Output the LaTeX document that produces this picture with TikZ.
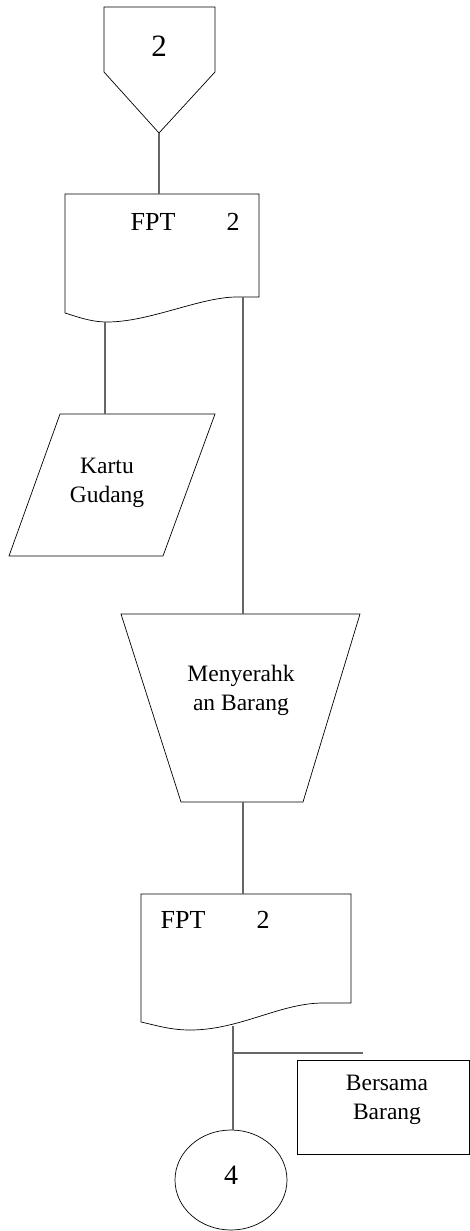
\documentclass[tikz,border=0pt]{standalone}
\usepackage{fontspec}
\setmainfont{Liberation Serif}
\begin{document}
\begin{tikzpicture}[x=1pt,y=-1pt,
  shp/.style={draw=black,line width=0.7pt,fill=white},
  conn/.style={draw=black!60,line width=1.1pt},
  lbl/.style={font=\fontsize{23.5}{29}\selectfont,align=center,inner sep=0pt},
  big/.style={font=\fontsize{26}{30}\selectfont,inner sep=0pt}]
\useasboundingbox (0,0) rectangle (470,1231);
% off-page connector
\draw[shp] (104,7)--(215,7)--(215,72)--(159,133)--(104,72)--cycle;
\node[font=\fontsize{31}{34}\selectfont,inner sep=0pt] (off) at (159,46) {2};
\coordinate (offB) at (159,133);
% document 1
\draw[shp] (65,194)--(259,194)--(259,297)--(237,297)
  .. controls (200,297) and (150,322) .. (107,322)
  .. controls (90,322) and (75,316) .. (65,313) -- cycle;
\coordinate (d1T) at (159,194);
\coordinate (d1L) at (105,322);
\coordinate (d1R) at (243,297);
\node[big] (fpt1) at (153,222) {FPT};
\node[big] (n1) at (233,222) {2};
% parallelogram
\draw[shp] (60,414)--(215,414)--(163,556)--(9,556)--cycle;
\coordinate (kT) at (105,414);
\node[lbl] (kartu) at (107,483) {Kartu\\Gudang};
% trapezoid
\draw[shp] (121,614)--(360,614)--(303,802)--(181,802)--cycle;
\coordinate (tT) at (243,614);
\coordinate (tB) at (243,802);
\node[lbl] (meny) at (241,690) {Menyerahk\\an Barang};
% document 2
\draw[shp] (141,894)--(351,894)--(351,1003)--(323,1003)
  .. controls (280,1003) and (240,1030) .. (190,1030)
  .. controls (170,1030) and (155,1025) .. (141,1022) -- cycle;
\coordinate (d2T) at (243,894);
\coordinate (d2B) at (233,1026);
\node[big] (fpt2) at (183,920) {FPT};
\node[big] (n2) at (263,920) {2};
% note rectangle
\draw[shp] (297,1060) rectangle (469.5,1154);
\node[lbl] (bersama) at (387,1100) {Bersama\\Barang};
\coordinate (br) at (233,1053);
\coordinate (brE) at (363,1053);
% circle connector
\draw[shp] (231,1180) ellipse [x radius=56,y radius=50];
\node[font=\fontsize{28}{30}\selectfont,inner sep=0pt] (four) at (231,1175) {4};
\coordinate (cT) at (233,1130);
% connectors
\draw[conn] (offB) -- (d1T);
\draw[conn] (d1L) -- (kT);
\draw[conn] (d1R) -- (tT);
\draw[conn] (tB) -- (d2T);
\draw[conn] (d2B) -- (cT);
\draw[conn] (br) -- (brE);
\end{tikzpicture}
\end{document}
